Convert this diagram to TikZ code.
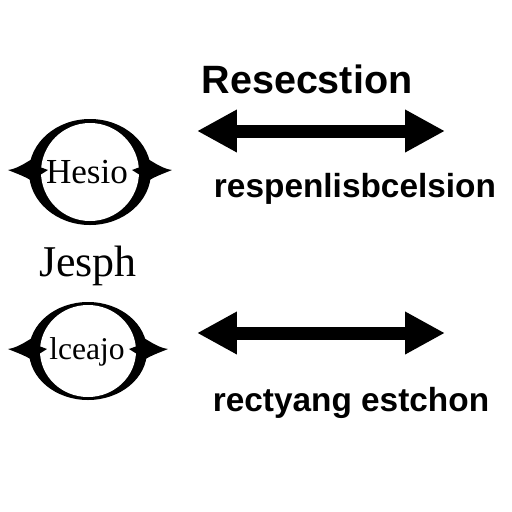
\documentclass[tikz,border=0pt]{standalone}
\usepackage{fontspec}
\setmainfont{Liberation Sans}
\newfontfamily\ringfont{Liberation Serif}
\usepackage{tikz}
\usetikzlibrary{arrows.meta,positioning}

\begin{document}
\begin{tikzpicture}[
    x=0.02cm, y=-0.02cm,
    font=\rmfamily,
    % Styles
    heading/.style={font=\fontsize{22.5}{26}\selectfont\bfseries},
    caption/.style={font=\fontsize{19}{22}\selectfont\bfseries},
    ringlabel/.style={font=\ringfont\fontsize{20}{24}\selectfont},
    sidelabel/.style={font=\ringfont\fontsize{25}{28}\selectfont},
    bigarrow/.style={line width=0.26cm, {Triangle[length=0.8cm,width=0.8cm]}-{Triangle[length=0.8cm,width=0.8cm]}},
    fin/.style={fill=black}
]

% --- Canvas ---
\fill[white] (0,0) rectangle (512,512);
\useasboundingbox (0,0) rectangle (512,512);

% --- Upper ring ---
\coordinate (ring_a) at (90,172);
\fill (ring_a) ellipse [x radius=61, y radius=53];
\fill[white] (ring_a) ellipse [x radius=49, y radius=49];
\begin{scope}[shift={(ring_a)}]
    \fill[fin] (-58,-13) .. controls (-66,-8) and (-74,-3) .. (-82,-2) .. controls (-72,2) and (-64,5) .. (-58,9) -- cycle;
    \fill[fin, xscale=-1] (-58,-13) .. controls (-66,-8) and (-74,-3) .. (-82,-2) .. controls (-72,2) and (-64,5) .. (-58,9) -- cycle;
    \fill[fin] (-50,-5) -- (-42,-2) -- (-50,3) -- cycle;
    \fill[fin, xscale=-1] (-50,-5) -- (-42,-2) -- (-50,3) -- cycle;
\end{scope}
\node[ringlabel] (hesio) at (87,172) {Hesio};

% --- Lower ring ---
\coordinate (ring_b) at (88,351);
\fill (ring_b) ellipse [x radius=59, y radius=49];
\fill[white] (ring_b) ellipse [x radius=48, y radius=46];
\begin{scope}[shift={(ring_b)}]
    \fill[fin] (-56,-13) .. controls (-64,-8) and (-72,-3) .. (-80,-2) .. controls (-70,2) and (-62,5) .. (-56,9) -- cycle;
    \fill[fin, xscale=-1] (-56,-13) .. controls (-64,-8) and (-72,-3) .. (-80,-2) .. controls (-70,2) and (-62,5) .. (-56,9) -- cycle;
    \fill[fin] (-49,-5) -- (-41,-2) -- (-49,3) -- cycle;
    \fill[fin, xscale=-1] (-49,-5) -- (-41,-2) -- (-49,3) -- cycle;
\end{scope}
\node[ringlabel, font=\ringfont\fontsize{18}{22}\selectfont] (lceajo) at (87,352) {lceajo};

% --- Middle label ---
\node[sidelabel] (jesph) at (88,266) {Jesph};

% --- Right side ---
\node[heading] (title) at (307,79) {Resecstion};
\coordinate (arr_a_l) at (197,131);
\coordinate (arr_a_r) at (445,131);
\draw[bigarrow] (arr_a_l) -- (arr_a_r);
\node[caption] (cap_a) at (355,189) {respenlisbcelsion};

\coordinate (arr_b_l) at (197,333);
\coordinate (arr_b_r) at (445,333);
\draw[bigarrow] (arr_b_l) -- (arr_b_r);
\node[caption] (cap_b) at (351,403) {rectyang estchon};

\end{tikzpicture}
\end{document}
